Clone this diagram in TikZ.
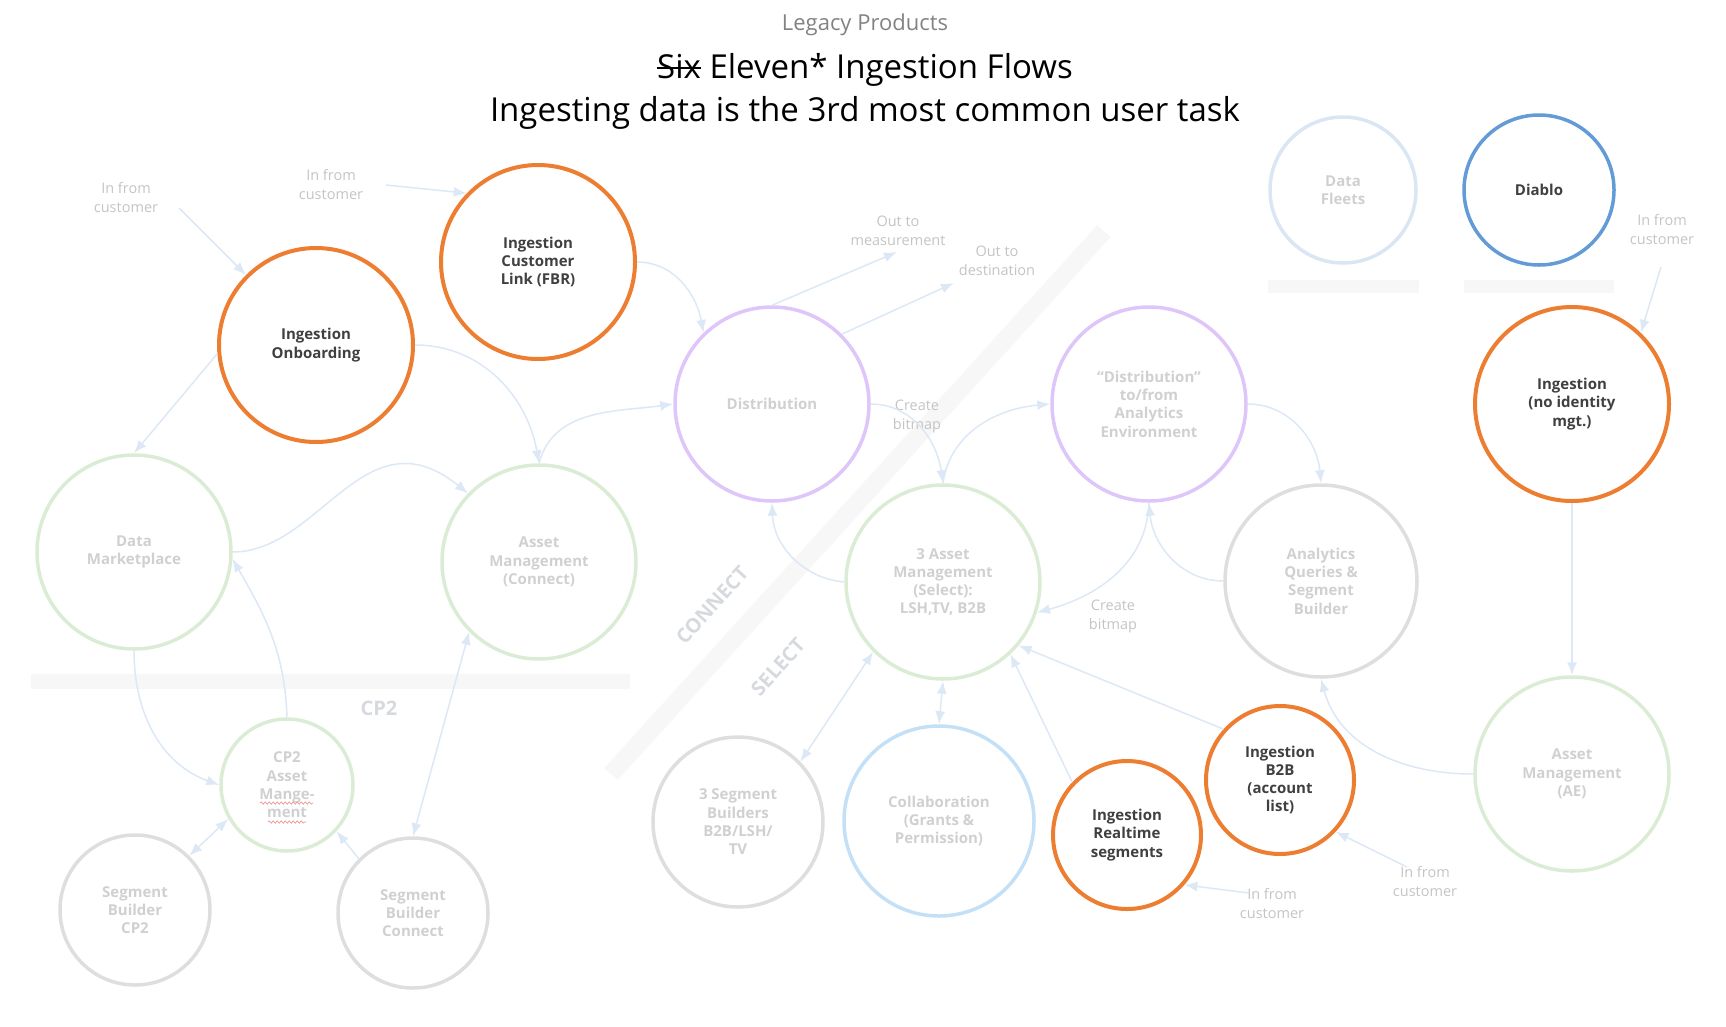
\documentclass[tikz,border=0pt]{standalone}
\usepackage{fontspec}
\setmainfont{Open Sans}
\usetikzlibrary{arrows.meta,decorations.pathmorphing}

\definecolor{ingorange}{RGB}{237,125,49}
\definecolor{diabloblue}{RGB}{98,155,213}
\definecolor{fleetblue}{RGB}{218,230,244}
\definecolor{distpurple}{RGB}{222,198,250}
\definecolor{assetgreen}{RGB}{219,236,213}
\definecolor{segmentgray}{RGB}{222,222,222}
\definecolor{collabblue}{RGB}{196,224,246}
\definecolor{flowblue}{RGB}{220,232,245}
\definecolor{fainttext}{RGB}{208,208,208}
\definecolor{notetext}{RGB}{196,196,196}
\definecolor{darktext}{RGB}{64,64,64}
\definecolor{zonetext}{RGB}{214,218,222}
\definecolor{barfill}{RGB}{247,247,247}
\definecolor{headgray}{RGB}{130,130,130}
\definecolor{spellred}{RGB}{240,150,150}

\newcommand{\strikeword}[1]{\setbox0\hbox{#1}\rlap{\copy0}\rule[0.3em]{\wd0}{1.7pt}}

\begin{document}
\begin{tikzpicture}[x=1pt, y=1pt,
    >={Latex[length=13pt,width=10pt]},
    ring/.style={circle, line width=3.5pt, inner sep=0pt, align=center,
        font=\fontsize{15}{18.3}\selectfont\bfseries, text=fainttext},
    ingest/.style={ring, draw=ingorange, line width=4pt, text=darktext},
    assetring/.style={ring, draw=assetgreen},
    distring/.style={ring, draw=distpurple},
    segring/.style={ring, draw=segmentgray},
    flow/.style={draw=flowblue, line width=1.5pt},
    note/.style={align=center, text=notetext, font=\fontsize{14.5}{19}\selectfont},
    zonelabel/.style={text=zonetext, font=\fontsize{20}{24}\selectfont\bfseries},
    spelling/.style={spellred, line width=0.7pt, decorate,
        decoration={snake, amplitude=1.2pt, segment length=4pt}}]
    \useasboundingbox (0,0) rectangle (1726,-1026);

    % headings
    \node[text=headgray, font=\fontsize{22}{26}\selectfont] (legacy) at (865,-25) {Legacy Products};
    \node[font=\fontsize{33}{40}\selectfont] (title) at (865,-70) {\strikeword{Six} Eleven* Ingestion Flows};
    \node[font=\fontsize{33}{40}\selectfont] (subtitle) at (865,-113) {Ingesting data is the 3rd most common user task};

    % shaded dividers
    \fill[barfill] (31,-674) rectangle (630,-689);
    \fill[barfill] (1268,-280) rectangle (1419,-293);
    \fill[barfill] (1464,-280) rectangle (1614,-293);
    \draw[barfill, line width=18pt] (611,-774) -- (1104,-231);
    \node[zonelabel] (cp2zone) at (379,-708) {CP2};
    \node[zonelabel, rotate=48] (connectzone) at (712,-605) {CONNECT};
    \node[zonelabel, rotate=48] (selectzone) at (778,-667) {SELECT};

    % products
    \node[ingest, minimum size=194pt] (onb) at (316,-345) {Ingestion\\Onboarding};
    \node[ingest, minimum size=194pt] (fbr) at (538,-262) {Ingestion\\Customer\\Link (FBR)};
    \node[assetring, minimum size=194pt] (dmk) at (134,-552) {Data\\Marketplace};
    \node[assetring, minimum size=194pt] (amc) at (539,-562) {Asset\\Management\\(Connect)};
    \node[distring, minimum size=194pt] (dist) at (772,-404) {Distribution};
    \node[distring, minimum size=194pt] (denv) at (1149,-404) {“Distribution”\\to/from\\Analytics\\Environment};
    \node[assetring, minimum size=194pt] (ams) at (943,-582) {3 Asset\\Management\\(Select):\\LSH,TV, B2B};
    \node[segring, minimum size=192pt] (aqs) at (1321,-581) {Analytics\\Queries \&\\Segment\\Builder};
    \node[ingest, minimum size=194pt] (ingn) at (1572,-404) {Ingestion\\(no identity\\mgt.)};
    \node[ring, draw=fleetblue, minimum size=146pt] (fleet) at (1343,-190) {Data\\Fleets};
    \node[ring, draw=diabloblue, text=darktext, minimum size=150pt] (diablo) at (1539,-190) {Diablo};
    \node[assetring, minimum size=194pt] (ame) at (1572,-774) {Asset\\Management\\(AE)};
    \node[ingest, minimum size=148pt] (b2b) at (1280,-780) {Ingestion\\B2B\\(account\\list)};
    \node[ingest, minimum size=148pt] (rts) at (1127,-835) {Ingestion\\Realtime\\segments};
    \node[ring, draw=collabblue, minimum size=190pt] (collab) at (939,-821) {Collaboration\\(Grants \&\\Permission)};
    \node[segring, minimum size=170pt] (sb3) at (738,-822) {3 Segment\\Builders\\B2B/LSH/\\TV};
    \node[assetring, minimum size=132pt] (cp2a) at (287,-785) {CP2\\Asset\\Mange-\\ment};
    \node[segring, minimum size=150pt] (sbcp2) at (135,-910) {Segment\\Builder\\CP2};
    \node[segring, minimum size=150pt] (sbcon) at (413,-913) {Segment\\Builder\\Connect};
    \draw[spelling] ([shift={(-27,-18)}]cp2a.center) -- ([shift={(26,-18)}]cp2a.center);
    \draw[spelling] ([shift={(-19,-37)}]cp2a.center) -- ([shift={(19,-37)}]cp2a.center);

    % notes
    \node[note] (incust1) at (126,-198) {In from\\customer};
    \node[note] (incust2) at (331,-185) {In from\\customer};
    \node[note] (incust3) at (1662,-230) {In from\\customer};
    \node[note] (incust4) at (1425,-882) {In from\\customer};
    \node[note] (incust5) at (1272,-904) {In from\\customer};
    \node[note] (outmeas) at (898,-231) {Out to\\measurement};
    \node[note] (outdest) at (997,-261) {Out to\\destination};
    \node[note] (bitmap1) at (917,-416) {Create\\bitmap};
    \node[note] (bitmap2) at (1113,-616) {Create\\bitmap};

    \coordinate (tail1) at (179,-208);
    \coordinate (tail2) at (386,-185);
    \coordinate (tail3) at (1661,-267);
    \coordinate (tail4) at (1407,-867);
    \coordinate (tail5) at (1249,-893);
    \coordinate (headmeas) at (897,-252);
    \coordinate (headdest) at (954,-283);

    % flows
    \draw[flow, ->] (tail1) -- (onb.135);
    \draw[flow, ->] (tail2) -- (fbr.136);
    \draw[flow, ->] (tail3) -- (ingn.46);
    \draw[flow, ->] (tail4) -- (b2b.-43);
    \draw[flow, ->] (tail5) -- (rts.-41);
    \draw[flow, ->] (dist.north) -- (headmeas);
    \draw[flow, ->] (dist.45) -- (headdest);
    \draw[flow, ->] (fbr.east) to[out=0, in=100] (dist.134);
    \draw[flow, ->] (onb.east) to[out=0, in=100] (amc.north);
    \draw[flow, ->] (amc.north) to[out=75, in=188] (dist.west);
    \draw[flow, ->] (onb.185) -- (dmk.north);
    \draw[flow, ->] (dmk.east) .. controls (320,-552) and (365,-410) .. (amc.136);
    \draw[flow, ->] (cp2a.north) to[out=92, in=-60] (dmk.-4);
    \draw[flow, ->] (dmk.south) to[out=-90, in=160] (cp2a.west);
    \draw[flow, <->] (sbcon.north) -- (amc.225);
    \draw[flow, <->] (sbcp2.45) -- (cp2a.210);
    \draw[flow, ->] (sbcon.135) -- (cp2a.-43);
    \draw[flow, ->] (dist.east) to[out=0, in=98] (ams.north);
    \draw[flow, ->] (ams.north) to[out=82, in=185] (denv.west);
    \draw[flow, ->] (ams.west) to[out=175, in=-88] (dist.south);
    \draw[flow, ->] (aqs.west) to[out=180, in=-85] (denv.south);
    \draw[flow, ->] (denv.south) to[out=-92, in=15] (ams.-18);
    \draw[flow, ->] (denv.east) to[out=0, in=95] (aqs.north);
    \draw[flow, <->] (collab.north) -- (ams.south);
    \draw[flow, <->] (sb3.44) -- (ams.225);
    \draw[flow, ->] (rts.136) -- (ams.-47);
    \draw[flow, ->] (b2b.138) -- (ams.-40);
    \draw[flow, ->] (ame.west) to[out=180, in=-75] (aqs.south);
    \draw[flow, ->] (ingn.south) -- (ame.north);
\end{tikzpicture}
\end{document}
